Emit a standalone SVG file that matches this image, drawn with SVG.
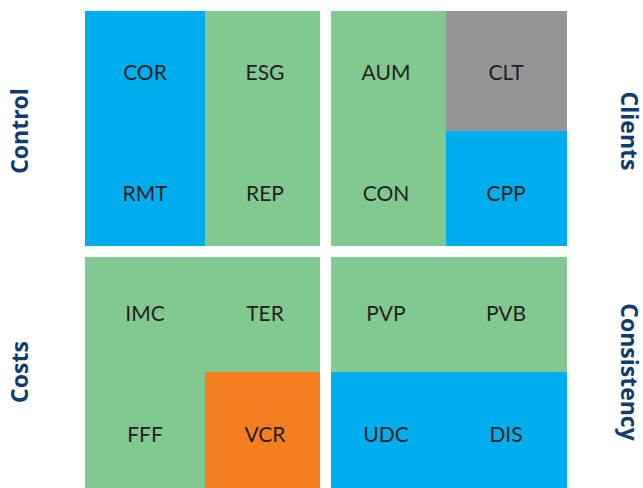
<svg xmlns="http://www.w3.org/2000/svg" width="643" height="488" viewBox="0 0 643 488">
<style>
.blue{fill:#00AEEF}
.green{fill:#82C991}
.gray{fill:#939598}
.orange{fill:#F47E20}
.t{font-family:Lato,"Liberation Sans",sans-serif;font-size:21px;fill:#231F20;text-anchor:middle}
.h{font-family:"Open Sans","Liberation Sans",sans-serif;font-size:23px;font-weight:700;fill:#0F3D6B;text-anchor:middle}
</style>
<rect width="643" height="488" fill="#FFFFFF"/>
<g id="control">
<rect class="blue" x="85" y="11" width="120" height="235"/>
<rect class="green" x="205" y="11" width="115" height="235"/>
<text class="t" x="145" y="80">COR</text>
<text class="t" x="265" y="80">ESG</text>
<text class="t" x="145" y="201">RMT</text>
<text class="t" x="265" y="201">REP</text>
<text class="h" transform="translate(28,131) rotate(-90)">Control</text>
</g>
<g id="clients">
<rect class="green" x="331" y="11" width="115" height="235"/>
<rect class="gray" x="446" y="11" width="121" height="120"/>
<rect class="blue" x="446" y="131" width="121" height="115"/>
<text class="t" x="386" y="80">AUM</text>
<text class="t" x="506" y="80">CLT</text>
<text class="t" x="386" y="201">CON</text>
<text class="t" x="506" y="201">CPP</text>
<text class="h" transform="translate(621,131) rotate(90)">Clients</text>
</g>
<g id="costs">
<rect class="green" x="85" y="257" width="235" height="231"/>
<rect class="orange" x="205" y="372" width="115" height="116"/>
<text class="t" x="145" y="321">IMC</text>
<text class="t" x="265" y="321">TER</text>
<text class="t" x="145" y="442">FFF</text>
<text class="t" x="265" y="442">VCR</text>
<text class="h" transform="translate(28,372) rotate(-90)">Costs</text>
</g>
<g id="consistency">
<rect class="green" x="331" y="257" width="236" height="115"/>
<rect class="blue" x="331" y="372" width="236" height="116"/>
<text class="t" x="386" y="321">PVP</text>
<text class="t" x="506" y="321">PVB</text>
<text class="t" x="386" y="442">UDC</text>
<text class="t" x="506" y="442">DIS</text>
<text class="h" transform="translate(621,372) rotate(90)">Consistency</text>
</g>
<g id="connectors"/>
</svg>
